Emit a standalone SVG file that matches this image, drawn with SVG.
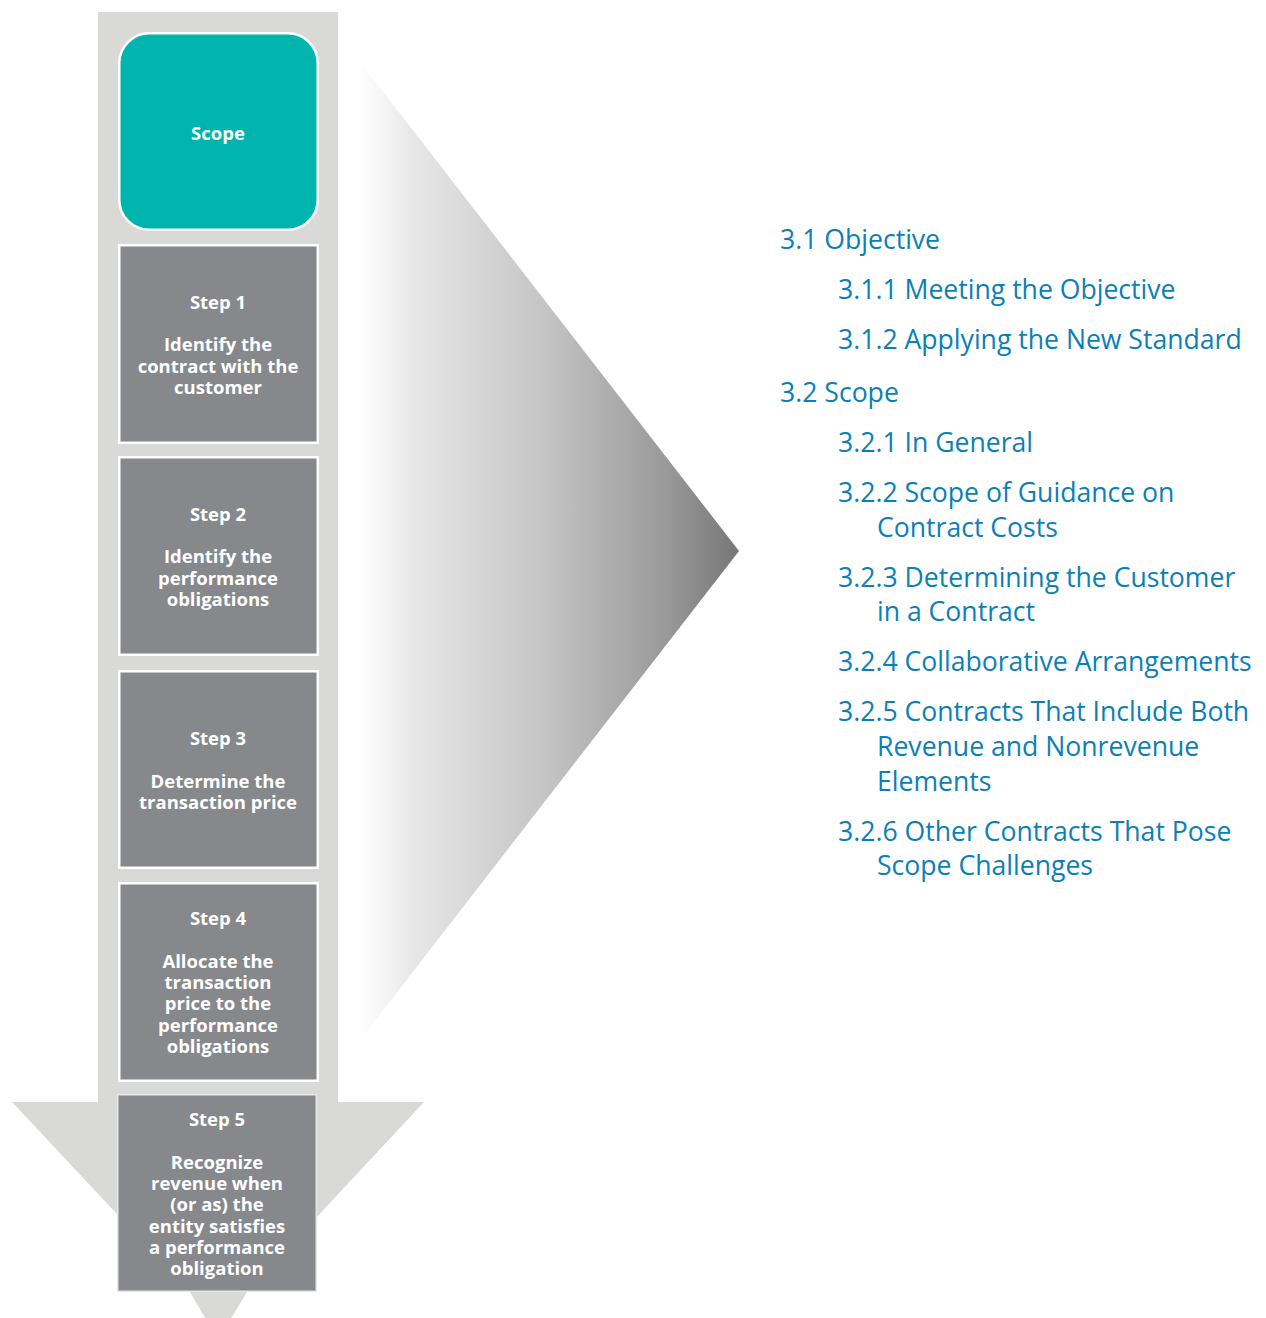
<svg xmlns="http://www.w3.org/2000/svg" width="1266" height="1318" viewBox="0 0 1266 1318">
<defs>
<linearGradient id="fade" x1="360" y1="0" x2="740" y2="0" gradientUnits="userSpaceOnUse">
<stop offset="0" stop-color="#ffffff"/>
<stop offset="0.15" stop-color="#e6e6e6"/>
<stop offset="0.5" stop-color="#c3c3c3"/>
<stop offset="0.8" stop-color="#9a9a9a"/>
<stop offset="1" stop-color="#767676"/>
</linearGradient>
<style>
.col{fill:#d9d9d8}
.box{fill:#86888c;stroke:#ffffff;stroke-width:2.5}
.lbl{font-family:"Open Sans","Liberation Sans",sans-serif;font-weight:bold;font-size:18.5px;fill:#ffffff;text-anchor:middle}
.toc{font-family:"Open Sans","Liberation Sans",sans-serif;font-size:26.6px;fill:#0b7fb6}
</style>
</defs>
<rect width="1266" height="1318" fill="#ffffff"/>
<g id="flow-arrow">
<rect class="col" x="98" y="12" width="240" height="1092"/>
<polygon class="col" points="12,1102 424,1102 247,1292 218,1340 190,1292"/>
</g>
<g id="expand-triangle">
<polygon points="360,62 739,551 360,1040" fill="url(#fade)"/>
</g>
<g id="connectors"></g>
<g id="scope">
<rect x="119.25" y="33.25" width="198.5" height="196.5" rx="30" ry="30" fill="#00b5ad" stroke="#ffffff" stroke-width="2.5"/>
<text class="lbl" x="218" y="140">Scope</text>
</g>
<g id="step1">
<rect class="box" x="119.25" y="245.25" width="198.5" height="197.5"/>
<text class="lbl" x="218" y="309">Step 1</text>
<text class="lbl" x="218" y="351">Identify the</text>
<text class="lbl" x="218" y="373">contract with the</text>
<text class="lbl" x="218" y="394">customer</text>
</g>
<g id="step2">
<rect class="box" x="119.25" y="457.25" width="198.5" height="197.5"/>
<text class="lbl" x="218" y="521">Step 2</text>
<text class="lbl" x="218" y="563">Identify the</text>
<text class="lbl" x="218" y="585">performance</text>
<text class="lbl" x="218" y="606">obligations</text>
</g>
<g id="step3">
<rect class="box" x="119.25" y="671.25" width="198.5" height="196.5"/>
<text class="lbl" x="218" y="745">Step 3</text>
<text class="lbl" x="218" y="788">Determine the</text>
<text class="lbl" x="218" y="809">transaction price</text>
</g>
<g id="step4">
<rect class="box" x="119.25" y="883.25" width="198.5" height="197.5"/>
<text class="lbl" x="218" y="925">Step 4</text>
<text class="lbl" x="218" y="968">Allocate the</text>
<text class="lbl" x="218" y="989">transaction</text>
<text class="lbl" x="218" y="1010">price to the</text>
<text class="lbl" x="218" y="1032">performance</text>
<text class="lbl" x="218" y="1053">obligations</text>
</g>
<g id="step5">
<rect x="117.75" y="1094.75" width="198.5" height="196.5" fill="#86888c" stroke="#e6e6e6" stroke-width="1.5"/>
<text class="lbl" x="217" y="1126">Step 5</text>
<text class="lbl" x="217" y="1169">Recognize</text>
<text class="lbl" x="217" y="1190">revenue when</text>
<text class="lbl" x="217" y="1211">(or as) the</text>
<text class="lbl" x="217" y="1233">entity satisfies</text>
<text class="lbl" x="217" y="1254">a performance</text>
<text class="lbl" x="217" y="1275">obligation</text>
</g>
<g id="toc">
<text class="toc" x="780" y="249">3.1 Objective</text>
<text class="toc" x="838" y="299">3.1.1 Meeting the Objective</text>
<text class="toc" x="838" y="349">3.1.2 Applying the New Standard</text>
<text class="toc" x="780" y="402">3.2 Scope</text>
<text class="toc" x="838" y="452">3.2.1 In General</text>
<text class="toc" x="838" y="502">3.2.2 Scope of Guidance on</text>
<text class="toc" x="877" y="537">Contract Costs</text>
<text class="toc" x="838" y="587">3.2.3 Determining the Customer</text>
<text class="toc" x="877" y="621">in a Contract</text>
<text class="toc" x="838" y="671">3.2.4 Collaborative Arrangements</text>
<text class="toc" x="838" y="721">3.2.5 Contracts That Include Both</text>
<text class="toc" x="877" y="756">Revenue and Nonrevenue</text>
<text class="toc" x="877" y="791">Elements</text>
<text class="toc" x="838" y="841">3.2.6 Other Contracts That Pose</text>
<text class="toc" x="877" y="875">Scope Challenges</text>
</g>
</svg>
